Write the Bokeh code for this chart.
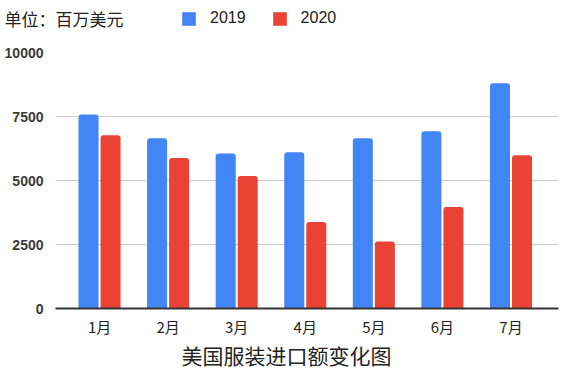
from bokeh.plotting import figure
from bokeh.layouts import column, row
from bokeh.models import (ColumnDataSource, FixedTicker, Range1d, Label, Legend,
                          LegendItem)
from bokeh.embed import file_html
from bokeh.resources import INLINE

months = ["1月", "2月", "3月", "4月", "5月", "6月", "7月"]
v2019 = [7580, 6650, 6050, 6100, 6650, 6920, 8800]
v2020 = [6770, 5880, 5180, 3380, 2620, 3960, 5990]
series_names = ["2019", "2020"]
y_ticks = [0, 2500, 5000, 7500, 10000]
unit_text = "单位：百万美元"
title_text = "美国服装进口额变化图"

BLUE = "#4285f4"
RED = "#ea4335"
CJK = "Noto Sans CJK SC"
W = 566


def strip(height):
    f = figure(width=W, height=height, output_backend="svg", toolbar_location=None,
               x_range=Range1d(0, W), y_range=Range1d(0, height),
               min_border=0, min_border_left=0, min_border_right=0,
               min_border_top=0, min_border_bottom=0)
    f.axis.visible = False
    f.grid.visible = False
    f.outline_line_color = None
    return f


# ---------- header strip (unit text + legend) ----------
hdr = strip(29)
# legend-only renderers (their single point lies outside the visible range)
hb = hdr.vbar(x=[-1000], top=[1], width=1, fill_color=BLUE, line_color=None)
hr = hdr.vbar(x=[-1000], top=[1], width=1, fill_color=RED, line_color=None)
hdr.add_layout(Label(x=4, y=11.5, text=unit_text, text_font=CJK,
                     text_font_size="17px", text_color="#222222",
                     text_baseline="middle", text_align="left"))
legend = Legend(items=[LegendItem(label=series_names[0], renderers=[hb]),
                       LegendItem(label=series_names[1], renderers=[hr])],
                orientation="horizontal", location=(180, 2),
                background_fill_alpha=0, border_line_color=None,
                label_text_font="Liberation Sans", label_text_font_size="16px",
                label_text_color="#222222", glyph_width=17, glyph_height=17,
                label_standoff=13, spacing=25, padding=0, margin=0)
hdr.add_layout(legend, "center")

# ---------- main chart ----------
xs = list(range(1, len(months) + 1))
src = ColumnDataSource(dict(
    xb=[x - 0.1606 for x in xs],
    xr=[x + 0.1606 for x in xs],
    v2019=v2019,
    v2020=v2020,
))

p = figure(width=W, height=310, output_backend="svg", toolbar_location=None,
           x_range=Range1d(0.3577, 7.6927), y_range=Range1d(0, 10000),
           min_border_left=55, min_border_right=8, min_border_top=23,
           min_border_bottom=30)
p.outline_line_color = None

p.vbar(x="xb", top="v2019", width=0.292, source=src, fill_color=BLUE,
       line_color=None, border_radius=[3, 3, 0, 0])
p.vbar(x="xr", top="v2020", width=0.292, source=src, fill_color=RED,
       line_color=None, border_radius=[3, 3, 0, 0])

p.yaxis.ticker = FixedTicker(ticks=y_ticks)
p.yaxis.axis_line_color = None
p.yaxis.major_tick_line_color = None
p.yaxis.minor_tick_line_color = None
p.yaxis.major_label_text_font = "Liberation Sans"
p.yaxis.major_label_text_font_style = "bold"
p.yaxis.major_label_text_font_size = "14px"
p.yaxis.major_label_text_color = "#3a3a3a"
p.yaxis.major_label_standoff = 6

p.xaxis.ticker = FixedTicker(ticks=xs)
p.xaxis.major_label_overrides = {x: m for x, m in zip(xs, months)}
p.xaxis.axis_line_color = "#333333"
p.xaxis.axis_line_width = 2
p.xaxis.major_tick_line_color = None
p.xaxis.minor_tick_line_color = None
p.xaxis.major_label_text_font = CJK
p.xaxis.major_label_text_font_size = "15px"
p.xaxis.major_label_text_color = "#222222"
p.xaxis.major_label_standoff = 1

p.xgrid.grid_line_color = None
p.ygrid.grid_line_color = "#cccccc"
p.ygrid.ticker = FixedTicker(ticks=y_ticks)

# ---------- footer strip (chart title) ----------
ftr = strip(31)
ftr.add_layout(Label(x=286, y=15.5, text=title_text, text_font=CJK,
                     text_font_size="21px", text_color="#222222",
                     text_baseline="middle", text_align="center"))

layout = column(hdr, row(p), ftr, spacing=0)
open("out.html", "w").write(file_html(layout, INLINE))
